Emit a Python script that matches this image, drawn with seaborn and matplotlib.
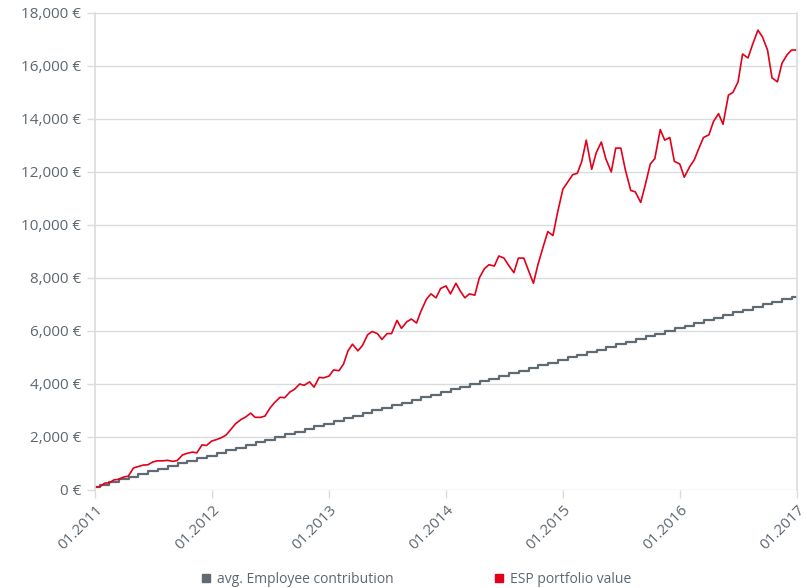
import matplotlib
matplotlib.use("Agg")
import matplotlib.pyplot as plt
import matplotlib.dates as mdates
from matplotlib.ticker import FuncFormatter
from matplotlib.lines import Line2D
import seaborn as sns
import pandas as pd

# monthly average employee contribution (EUR), Jan 2011 .. Jan 2017
contrib_values = [
    100, 200, 300, 400, 500, 600, 700, 800, 900, 1000, 1100, 1200,
    1300, 1400, 1500, 1600, 1700, 1800, 1900, 2000, 2100, 2200, 2300, 2400,
    2500, 2600, 2700, 2800, 2900, 3000, 3100, 3200, 3300, 3400, 3500, 3600,
    3700, 3800, 3900, 4000, 4100, 4200, 4300, 4400, 4500, 4600, 4700, 4800,
    4900, 5000, 5100, 5200, 5300, 5400, 5500, 5600, 5700, 5800, 5900, 6000,
    6100, 6200, 6300, 6400, 6500, 6600, 6700, 6800, 6900, 7000, 7100, 7200,
    7300,
]

# ESP portfolio value (EUR), read twice a month, Jan 2011 .. Jan 2017
portfolio_values = [
    110, 120, 260, 270, 380, 400, 490, 520, 830, 880, 940, 950,
    1060, 1100, 1100, 1120, 1080, 1110, 1320, 1380, 1430, 1400, 1700, 1680,
    1850, 1900, 1980, 2080, 2300, 2500, 2660, 2750, 2900, 2740, 2740, 2790,
    3100, 3300, 3500, 3480, 3700, 3800, 4000, 3950, 4080, 3880, 4250, 4230,
    4300, 4530, 4500, 4750, 5250, 5500, 5250, 5450, 5850, 5980, 5900, 5680,
    5900, 5900, 6400, 6100, 6350, 6450, 6300, 6750, 7200, 7400, 7250, 7600,
    7700, 7400, 7800, 7500, 7250, 7400, 7350, 8000, 8350, 8500, 8450, 8830,
    8750, 8490, 8200, 8750, 8750, 8300, 7800, 8500, 9200, 9750, 9600, 10450,
    11350, 11600, 11900, 11950, 12400, 13200, 12100, 12720, 13130, 12500, 12000, 12900,
    12900, 12080, 11300, 11250, 10850, 11500, 12300, 12500, 13600, 13200, 13300, 12400,
    12300, 11800, 12200, 12450, 12900, 13300, 13400, 13900, 14200, 13800, 14900, 15000,
    15400, 16450, 16300, 16800, 17350, 17100, 16600, 15550, 15400, 16100, 16420, 16600,
    16600,
]

contrib_dates = pd.date_range("2011-01-01", "2017-01-01", freq="MS")
portfolio_dates = pd.date_range("2011-01-01", "2017-01-01", freq="SMS")

contrib_df = pd.DataFrame({"date": contrib_dates, "value": contrib_values})
portfolio_df = pd.DataFrame({"date": portfolio_dates, "value": portfolio_values})

RED = "#e2001a"
GRAY = "#5f6a72"
GRID = "#d9dcde"
TEXT = "#5d6770"

sns.set_style("white")
plt.rcParams["font.family"] = ["Open Sans", "DejaVu Sans"]

fig = plt.figure(figsize=(8.07, 5.88), dpi=100)
ax = fig.add_axes([0.1177, 0.1667, 0.8699, 0.8113])

sns.lineplot(data=contrib_df, x="date", y="value", ax=ax, color=GRAY,
             linewidth=1.6, drawstyle="steps-mid")
sns.lineplot(data=portfolio_df, x="date", y="value", ax=ax, color=RED,
             linewidth=1.2)

ax.set_xlim(pd.Timestamp("2011-01-01"), pd.Timestamp("2017-01-01"))
ax.set_ylim(0, 18000)
ax.set_yticks(range(0, 18001, 2000))
ax.yaxis.set_major_formatter(FuncFormatter(lambda v, p: f"{int(v):,} €"))
ax.xaxis.set_major_locator(mdates.YearLocator())
ax.xaxis.set_major_formatter(mdates.DateFormatter("%m.%Y"))

ax.grid(axis="y", color=GRID, linewidth=1)
ax.set_xlabel("")
ax.set_ylabel("")
for side in ["top", "bottom"]:
    ax.spines[side].set_visible(False)
for side in ["left", "right"]:
    ax.spines[side].set_color(GRID)
    ax.spines[side].set_linewidth(1.2)

ax.tick_params(axis="y", length=6, width=1, color=GRID, labelsize=11,
               labelcolor=TEXT, pad=4, left=True)
ax.tick_params(axis="x", length=6, width=1, color=GRID, labelsize=11,
               labelcolor=TEXT, pad=3, bottom=True)
for lbl in ax.get_xticklabels():
    lbl.set_rotation(45)
    lbl.set_ha("right")
    lbl.set_rotation_mode("anchor")

handles = [
    Line2D([], [], marker="s", linestyle="", color=GRAY, markersize=5.5),
    Line2D([], [], marker="s", linestyle="", color=RED, markersize=5.5),
]
fig.legend(handles, ["avg. Employee contribution", "ESP portfolio value"],
           loc="lower center", bbox_to_anchor=(0.516, -0.02), ncol=2,
           frameon=False, fontsize=10, labelcolor=TEXT, columnspacing=7.3,
           handletextpad=0.5, handlelength=0.6)

fig.savefig("out.png", dpi=100)
